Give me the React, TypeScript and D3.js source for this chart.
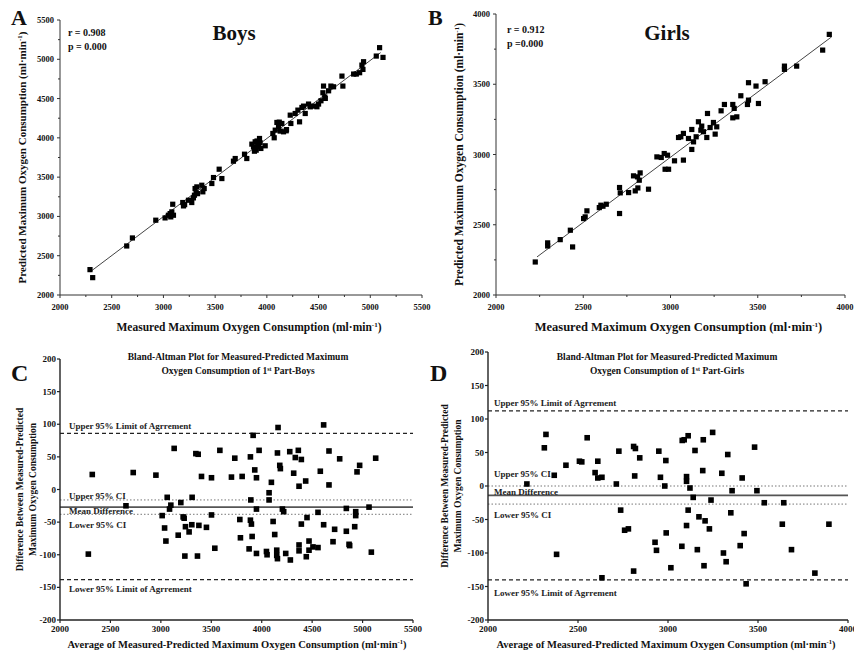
import * as d3 from "d3";

const FONT = "'Liberation Serif', 'Times New Roman', Times, serif";

// ---- Panel A: boys, measured vs predicted
const boysMeasured = [2290, 2316, 2645, 2700, 2926, 3016, 3048, 3065, 3081, 3090, 3097, 3071, 3187, 3194, 3242, 3274, 3290, 3306, 3323, 3300, 3316, 3371, 3381, 3394, 3468, 3484, 3539, 3565, 3677, 3694, 3784, 3806, 3855, 3871, 3887, 3897, 3910, 3919, 3929, 3935, 3942, 3984, 4058, 4071, 4081, 4097, 4113, 4129, 4145, 4161, 4187, 4226, 4232, 4274, 4300, 4316, 4339, 4355, 4371, 4403, 4452, 4484, 4500, 4523, 4542, 4548, 4565, 4597, 4619, 4645, 4726, 4735, 4839, 4865, 4897, 4919, 4935, 4929, 5058, 5090, 5123, 3880, 3905, 4120, 4190, 4420, 4560, 3330, 3205];
const boysPredicted = [2323, 2221, 2624, 2726, 2952, 2981, 3015, 3036, 3058, 3155, 3015, 2994, 3177, 3134, 3206, 3177, 3236, 3355, 3376, 3270, 3300, 3397, 3313, 3355, 3419, 3495, 3601, 3482, 3703, 3737, 3792, 3737, 3920, 3886, 3950, 3843, 3886, 3920, 3992, 3937, 3865, 3899, 4056, 4001, 4098, 4196, 4141, 4086, 4183, 4077, 4090, 4289, 4183, 4310, 4353, 4204, 4387, 4404, 4310, 4430, 4404, 4396, 4430, 4472, 4574, 4659, 4502, 4599, 4659, 4650, 4786, 4659, 4812, 4812, 4829, 4926, 4969, 4871, 5041, 5148, 5024, 3830, 3960, 4200, 4105, 4395, 4520, 3290, 3150];
const boysFitX = [2290, 5100];
const boysFitY = [2293, 5085];
const boysStats = ["r = 0.908", "p = 0.000"];

// ---- Panel B: girls, measured vs predicted
const girlsMeasured = [2225, 2296, 2296, 2368, 2426, 2439, 2502, 2511, 2521, 2592, 2601, 2613, 2632, 2708, 2712, 2708, 2760, 2788, 2798, 2811, 2813, 2821, 2826, 2874, 2922, 2947, 2964, 2969, 2983, 2989, 3023, 3046, 3059, 3074, 3074, 3103, 3122, 3122, 3132, 3147, 3160, 3174, 3179, 3189, 3208, 3212, 3227, 3246, 3256, 3265, 3290, 3309, 3357, 3365, 3357, 3380, 3403, 3441, 3447, 3447, 3490, 3504, 3542, 3653, 3653, 3723, 3872, 3910];
const girlsPredicted = [2235, 2371, 2349, 2394, 2461, 2342, 2544, 2556, 2599, 2622, 2639, 2632, 2646, 2765, 2727, 2580, 2729, 2848, 2741, 2841, 2762, 2817, 2869, 2753, 2983, 2979, 3007, 2895, 2995, 2895, 2955, 3121, 3126, 3150, 2960, 3114, 3178, 3036, 3090, 3126, 3233, 3173, 3202, 3162, 3121, 3292, 3192, 3228, 3145, 3197, 3311, 3356, 3356, 3328, 3261, 3268, 3418, 3356, 3387, 3511, 3487, 3363, 3518, 3606, 3629, 3629, 3743, 3855];
const girlsFitX = [2235, 3924];
const girlsFitY = [2271, 3838];
const girlsStats = ["r = 0.912", "p =0.000"];

// ---- Panel C: boys Bland-Altman
const boysAvg = [2281, 2320, 2654, 2726, 2951, 3013, 3037, 3050, 3063, 3086, 3099, 3132, 3172, 3198, 3221, 3231, 3238, 3244, 3280, 3310, 3307, 3347, 3370, 3363, 3377, 3403, 3452, 3502, 3502, 3535, 3585, 3700, 3733, 3783, 3789, 3806, 3875, 3888, 3892, 3888, 3898, 3905, 3915, 3931, 3948, 3948, 3948, 3974, 4047, 4053, 4073, 4073, 4096, 4113, 4129, 4149, 4149, 4156, 4156, 4162, 4179, 4185, 4205, 4218, 4238, 4278, 4284, 4317, 4333, 4363, 4370, 4370, 4370, 4393, 4393, 4436, 4449, 4442, 4469, 4469, 4508, 4558, 4558, 4581, 4614, 4614, 4667, 4667, 4707, 4723, 4773, 4839, 4839, 4866, 4872, 4922, 4932, 4932, 4945, 4971, 5064, 5087, 5130];
const boysDiff = [-99, 23, -25, 26, 22, -40, -59, -79, -12, -30, -24, 63, -70, -20, -42, -44, -102, -57, -65, -12, -54, 55, 54, -102, -55, 20, -58, 18, -39, -90, 60, 19, 48, -46, -74, 20, -91, 50, -16, -47, -53, -72, 83, 30, 18, -30, -98, 60, -95, -100, -5, -16, 11, -49, -69, -101, -93, 56, -106, 95, 37, 32, -30, -34, -98, 58, -108, 25, 49, 60, 5, -85, -94, 46, -53, 13, -43, -103, -79, -93, -88, -89, -35, 28, -54, 99, 59, 7, -80, -61, 47, -29, -64, -84, -86, -57, -34, -40, 27, 37, -27, -96, 48];
const boysBaValues = [86, -16, -27, -38, -138];

// ---- Panel D: girls Bland-Altman
const girlsAvg = [2216, 2313, 2322, 2368, 2381, 2433, 2508, 2521, 2551, 2595, 2610, 2610, 2633, 2633, 2713, 2727, 2737, 2759, 2780, 2809, 2819, 2815, 2809, 2843, 2928, 2936, 2949, 2958, 2982, 2988, 2990, 3016, 3077, 3079, 3090, 3103, 3103, 3103, 3112, 3112, 3122, 3140, 3150, 3163, 3172, 3193, 3196, 3200, 3206, 3230, 3239, 3248, 3299, 3308, 3323, 3332, 3349, 3356, 3401, 3412, 3423, 3434, 3481, 3494, 3535, 3635, 3643, 3686, 3816, 3894];
const girlsDiff = [3, 57, 77, 16, -102, 31, 37, 36, 72, 20, 37, 12, 13, -137, 3, 52, -36, -66, -64, 59, 56, 15, -127, 42, -84, -96, 52, 13, 0, 38, -70, -122, -90, 68, 69, 14, 7, -59, 75, -36, -3, -17, 53, -95, -46, 23, 69, -119, -52, -64, -21, 80, 19, -100, -113, 47, -40, -7, -89, 12, -71, -146, 58, -7, -25, -57, -25, -95, -130, -57];
const girlsBaValues = [112, 0, -14, -27, -140];

const baLabels = ["Upper 95% Limit of Agrrement", "Upper 95% CI", "Mean Difference", "Lower 95% CI", "Lower 95% Limit of Agrrement"];
const baStyles = ["loa", "ci", "mean", "ci", "loa"];

const ticks2000to5500 = [2000, 2500, 3000, 3500, 4000, 4500, 5000, 5500];
const ticks2000to4000 = [2000, 2500, 3000, 3500, 4000];
const ticksDiff = [200, 150, 100, 50, 0, -50, -100, -150, -200];

function Sup({ t, size = 7, up = 4 }) {
  return (
    <>
      <tspan dy={-up} fontSize={size}>{t}</tspan>
      <tspan dy={up}>)</tspan>
    </>
  );
}

function ScatterPanel({ letter, letterX, title, titleX, stats, statsX, statsY, xs, ys, fitX, fitY, xTicks, yTicks, xRange, yRange, yLabelX, xLabelY, yLabelSize, xLabelSize }) {
  const x = d3.scaleLinear().domain([xTicks[0], xTicks[xTicks.length - 1]]).range(xRange);
  const y = d3.scaleLinear().domain([yTicks[0], yTicks[yTicks.length - 1]]).range(yRange);
  const x0 = xRange[0];
  const y0 = yRange[0];
  const step = xTicks[1] - xTicks[0];
  const minorX = xTicks.slice(0, -1).map((t) => t + step / 2);
  const minorY = yTicks.slice(0, -1).map((t) => t + (yTicks[1] - yTicks[0]) / 2);
  const midX = (xRange[0] + xRange[1]) / 2;
  const midY = (yRange[0] + yRange[1]) / 2;
  return (
    <g fontFamily={FONT} fontWeight="bold" fill="#111">
      <text x={letterX} y={25} fontSize={22}>{letter}</text>
      <text x={titleX} y={40} fontSize={21} textAnchor="middle">{title}</text>
      <text x={statsX} y={statsY} fontSize={10}>{stats[0]}</text>
      <text x={statsX} y={statsY + 14} fontSize={10}>{stats[1]}</text>
      {/* axes */}
      <line x1={x0} x2={x0} y1={yRange[1]} y2={y0} stroke="#333" strokeWidth={1} />
      <line x1={x0} x2={xRange[1]} y1={y0} y2={y0} stroke="#333" strokeWidth={1} />
      {yTicks.map((t) => (
        <g key={"y" + t}>
          <line x1={x0 - 3} x2={x0} y1={y(t)} y2={y(t)} stroke="#333" />
          <text x={x0 - 6} y={y(t) + 3} fontSize={8.5} textAnchor="end">{t}</text>
        </g>
      ))}
      {minorY.map((t) => <line key={"my" + t} x1={x0 - 2} x2={x0} y1={y(t)} y2={y(t)} stroke="#333" />)}
      {xTicks.map((t) => (
        <g key={"x" + t}>
          <line x1={x(t)} x2={x(t)} y1={y0} y2={y0 + 3} stroke="#333" />
          <text x={x(t)} y={y0 + 15} fontSize={8.5} textAnchor="middle">{t}</text>
        </g>
      ))}
      {minorX.map((t) => <line key={"mx" + t} x1={x(t)} x2={x(t)} y1={y0} y2={y0 + 2} stroke="#333" />)}
      {/* fit line */}
      <line x1={x(fitX[0])} y1={y(fitY[0])} x2={x(fitX[1])} y2={y(fitY[1])} stroke="#444" strokeWidth={1} />
      {xs.map((v, i) => (
        <rect key={i} x={x(v) - 2.6} y={y(ys[i]) - 2.6} width={5.2} height={5.2} fill="#000" />
      ))}
      <text transform={`translate(${yLabelX},${midY}) rotate(-90)`} fontSize={yLabelSize} textAnchor="middle">
        Predicted Maximum Oxygen Consumption (ml·min<Sup t="-1" />
      </text>
      <text x={midX + 8} y={xLabelY} fontSize={xLabelSize} textAnchor="middle">
        Measured Maximum Oxygen Consumption (ml·min<Sup t="-1" />
      </text>
    </g>
  );
}

function BlandAltmanPanel({ letter, letterX, part, xs, ys, lines, xTicks, xRange, yRange, labelX, labelDy, titleX, yLabelX, xLabelX }) {
  const x = d3.scaleLinear().domain([xTicks[0], xTicks[xTicks.length - 1]]).range(xRange);
  const y = d3.scaleLinear().domain([-200, 200]).range(yRange);
  const x0 = xRange[0];
  const y0 = yRange[0];
  const midY = (yRange[0] + yRange[1]) / 2;
  const dash = { loa: "4 3", ci: "1.5 2", mean: null };
  const col = { loa: "#222", ci: "#777", mean: "#555" };
  const wid = { loa: 1.2, ci: 1, mean: 1.6 };
  return (
    <g fontFamily={FONT} fontWeight="bold" fill="#111">
      <text x={letterX} y={381} fontSize={24}>{letter}</text>
      <text x={titleX} y={360} fontSize={9.5} textAnchor="middle">Bland-Altman Plot for Measured-Predicted Maximum</text>
      <text x={titleX} y={374} fontSize={9.5} textAnchor="middle">
        Oxygen Consumption of 1<tspan dy={-3} fontSize={6}>st</tspan><tspan dy={3}>{" Part-" + part}</tspan>
      </text>
      {lines.map((v, i) => (
        <g key={"l" + i}>
          <line x1={x0} x2={xRange[1]} y1={y(v)} y2={y(v)} stroke={col[baStyles[i]]}
            strokeWidth={wid[baStyles[i]]} strokeDasharray={dash[baStyles[i]] || undefined} />
          <text x={labelX} y={y(v) + labelDy[i]} fontSize={9} fill="#222">{baLabels[i]}</text>
        </g>
      ))}
      {xs.map((v, i) => (
        <rect key={i} x={x(v) - 2.8} y={y(ys[i]) - 2.8} width={5.6} height={5.6} fill="#000" />
      ))}
      <line x1={x0} x2={x0} y1={yRange[1]} y2={y0} stroke="#222" strokeWidth={1.4} />
      <line x1={x0} x2={xRange[1]} y1={y0} y2={y0} stroke="#222" strokeWidth={1.4} />
      {ticksDiff.map((t) => (
        <g key={"y" + t}>
          <line x1={x0 - 3} x2={x0} y1={y(t)} y2={y(t)} stroke="#222" strokeWidth={1.2} />
          <text x={x0 - 4} y={y(t) + 3} fontSize={9} textAnchor="end">{t}</text>
        </g>
      ))}
      {xTicks.map((t) => (
        <g key={"x" + t}>
          <line x1={x(t)} x2={x(t)} y1={y0} y2={y0 + 3} stroke="#222" strokeWidth={1.2} />
          <text x={x(t)} y={y0 + 12} fontSize={9} textAnchor="middle">{t}</text>
        </g>
      ))}
      <text transform={`translate(${yLabelX},${midY}) rotate(-90)`} fontSize={9.5} textAnchor="middle">
        <tspan x={0} dy={0}>Difference Between Measured-Predicted</tspan>
        <tspan x={0} dy={13}>Maximum Oxygen Consumption</tspan>
      </text>
      <text x={xLabelX} y={648} fontSize={10.5} textAnchor="middle">
        Average of Measured-Predicted Maximum Oxygen Consumption (ml·min<Sup t="-1" size={6.5} />
      </text>
    </g>
  );
}

export default function App() {
  return (
    <svg width={854} height={654} style={{ position: "absolute", left: 0, top: 0, background: "#fff" }}>
      <rect width={854} height={654} fill="#fff" />
      <ScatterPanel letter="A" letterX={11} title="Boys" titleX={234} stats={boysStats} statsX={68} statsY={36}
        xs={boysMeasured} ys={boysPredicted} fitX={boysFitX} fitY={boysFitY}
        xTicks={ticks2000to5500} yTicks={ticks2000to5500} xRange={[60, 422]} yRange={[295, 20]}
        yLabelX={26} xLabelY={331} yLabelSize={11} xLabelSize={11.5} />
      <ScatterPanel letter="B" letterX={428} title="Girls" titleX={667} stats={girlsStats} statsX={507} statsY={33}
        xs={girlsMeasured} ys={girlsPredicted} fitX={girlsFitX} fitY={girlsFitY}
        xTicks={ticks2000to4000} yTicks={ticks2000to4000} xRange={[496, 845]} yRange={[295, 14]}
        yLabelX={463} xLabelY={331} yLabelSize={11.5} xLabelSize={12.5} />
      <BlandAltmanPanel letter="C" letterX={11} part="Boys" xs={boysAvg} ys={boysDiff} lines={boysBaValues}
        xTicks={ticks2000to5500} xRange={[60, 413]} yRange={[620, 359]} labelX={69}
        labelDy={[-4, -1, 7, 14, 12]} titleX={238} yLabelX={23} xLabelX={237} />
      <BlandAltmanPanel letter="D" letterX={430} part="Girls" xs={girlsAvg} ys={girlsDiff} lines={girlsBaValues}
        xTicks={ticks2000to4000} xRange={[488, 848]} yRange={[620, 352]} labelX={494}
        labelDy={[-5, -9, 0, 14, 16]} titleX={667} yLabelX={448} xLabelX={666} />
    </svg>
  );
}
